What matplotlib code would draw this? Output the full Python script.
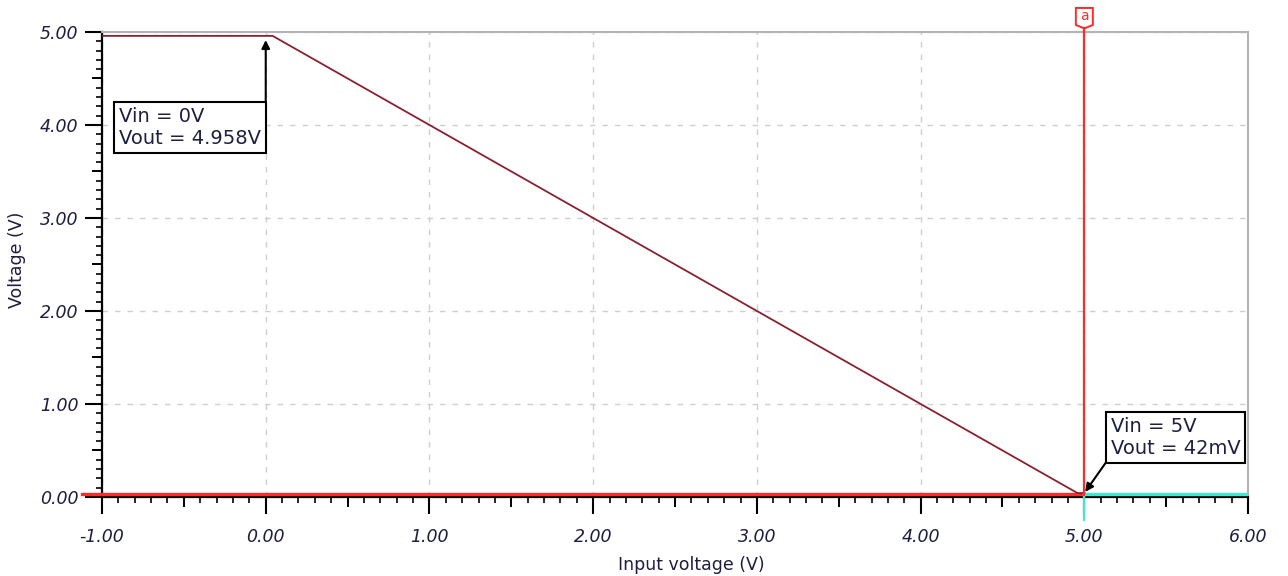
import numpy as np
import matplotlib.pyplot as plt
from matplotlib import transforms
from matplotlib.patches import Polygon
from matplotlib.ticker import MultipleLocator

# transfer curve (Vin -> Vout)
vin = [-1.0, 0.042, 4.958, 5.0]
vout = [4.958, 4.958, 0.042, 0.042]

# reference / low trace
low_x = [-1.0, 5.0]
low_y = [0.03, 0.03]
tail_x = [5.0, 6.0]
tail_y = [0.03, 0.03]

cursor_x = 5.0
cursor_label = "a"

ann_x = [0.0, 5.0]
ann_y = [4.958, 0.042]
ann_text = ["Vin = 0V\nVout = 4.958V", "Vin = 5V\nVout = 42mV"]

x_ticks = [-1, 0, 1, 2, 3, 4, 5, 6]
y_ticks = [0, 1, 2, 3, 4, 5]

txt_col = "#1e1e40"

fig = plt.figure(figsize=(12.88, 5.76), dpi=100)
ax = fig.add_axes([0.0792, 0.1372, 0.8898, 0.8073])

ax.set_xlim(-1, 6)
ax.set_ylim(0, 5)

# grid
ax.set_xticks(x_ticks)
ax.set_yticks(y_ticks)
ax.set_xticklabels([f"{v:.2f}" for v in x_ticks])
ax.set_yticklabels([f"{v:.2f}" for v in y_ticks])
ax.grid(True, which="major", color="#cfcfcf", lw=1.0, ls=(0, (4, 5)))
ax.set_axisbelow(True)

ax.xaxis.set_minor_locator(MultipleLocator(0.1))
ax.yaxis.set_minor_locator(MultipleLocator(0.1))
ax.tick_params(which="major", length=12, width=1.5, color="black",
               labelsize=12.5, labelcolor=txt_col)
ax.tick_params(axis="x", which="major", pad=10)
ax.tick_params(axis="y", which="major", pad=5)
ax.tick_params(which="minor", length=4, width=1.2, color="black")
for lab in ax.get_xticklabels() + ax.get_yticklabels():
    lab.set_fontstyle("italic")

# half-unit ticks, a bit longer than the minor ones
mids_x = [v + 0.5 for v in x_ticks[:-1]]
mids_y = [v + 0.5 for v in y_ticks[:-1]]
secx = ax.secondary_xaxis("bottom")
secx.set_xticks(mids_x, labels=[])
secx.tick_params(length=7.5, width=1.4, color="black")
secx.spines["bottom"].set_visible(False)
secy = ax.secondary_yaxis("left")
secy.set_yticks(mids_y, labels=[])
secy.tick_params(length=7.5, width=1.4, color="black")
secy.spines["left"].set_visible(False)

for s in ["left", "bottom"]:
    ax.spines[s].set_color("black")
    ax.spines[s].set_linewidth(1.6)
for s in ["top", "right"]:
    ax.spines[s].set_color("#b4b4b4")
    ax.spines[s].set_linewidth(1.5)

# traces
ax.plot(low_x, low_y, color="#ff2a2a", lw=2.4, solid_capstyle="butt", zorder=3)
ax.plot([low_x[0] - 0.12, low_x[0]], low_y, color="#ff2a2a", lw=2.4,
        clip_on=False, zorder=3)
ax.plot(tail_x, tail_y, color="#40e8d0", lw=2.4, zorder=3)
ax.plot(vin, vout, color="#8a2030", lw=1.3, zorder=4)

# cursor
ax.axvline(cursor_x, ymin=0, ymax=1.008, color="#ff2a2a", lw=1.6,
           clip_on=False, zorder=5)
ax.axvline(cursor_x, ymin=-0.05, ymax=0, color="#40e8d0", lw=1.6,
           clip_on=False, zorder=5)
tag_tr = fig.dpi_scale_trans + transforms.ScaledTranslation(
    cursor_x, 1.0, ax.get_xaxis_transform())
tag = Polygon([(-0.085, 0.07), (-0.085, 0.24), (0.085, 0.24), (0.085, 0.07),
               (0.0, 0.035)], closed=True, transform=tag_tr,
              facecolor="white", edgecolor="#ff2a2a", lw=1.4, clip_on=False)
ax.add_patch(tag)
ax.text(0.0, 0.155, cursor_label, transform=tag_tr, ha="center", va="center",
        color="#ff2a2a", fontsize=10)

# measurement boxes: text box + arrow from its corner to the point
fs = 14
pad = 0.25 * fs
box = dict(boxstyle=f"square,pad=0.25", facecolor="white", edgecolor="black",
           lw=1.5)
arrow = dict(arrowstyle="-|>", color="black", lw=1.5, shrinkA=0,
             mutation_scale=12)

corner0 = (0, -47.5)
ax.annotate(ann_text[0], xy=(ann_x[0], ann_y[0]),
            xytext=(corner0[0] - pad, corner0[1] - pad),
            textcoords="offset points", ha="right", va="top",
            multialignment="left", fontsize=fs, color=txt_col,
            linespacing=1.2, bbox=box, zorder=6)
ax.annotate("", xy=(ann_x[0], ann_y[0]), xytext=corner0,
            textcoords="offset points",
            arrowprops=dict(arrow, shrinkB=3), zorder=6)

corner1 = (15.5, 22.0)
ax.annotate(ann_text[1], xy=(ann_x[1], ann_y[1]),
            xytext=(corner1[0] + pad, corner1[1] + pad),
            textcoords="offset points", ha="left", va="bottom",
            multialignment="left", fontsize=fs, color=txt_col,
            linespacing=1.2, bbox=box, zorder=6)
ax.annotate("", xy=(ann_x[1], ann_y[1]), xytext=corner1,
            textcoords="offset points",
            arrowprops=dict(arrow, shrinkB=1), zorder=6)

ax.set_xlabel("Input voltage (V)", fontsize=12.5, color=txt_col, va="top")
ax.xaxis.set_label_coords(0.514, -0.128)
ax.set_ylabel("Voltage (V)", fontsize=12.5, color=txt_col)
ax.yaxis.set_label_coords(-0.066, 0.51)

fig.savefig("out.png", dpi=100)
